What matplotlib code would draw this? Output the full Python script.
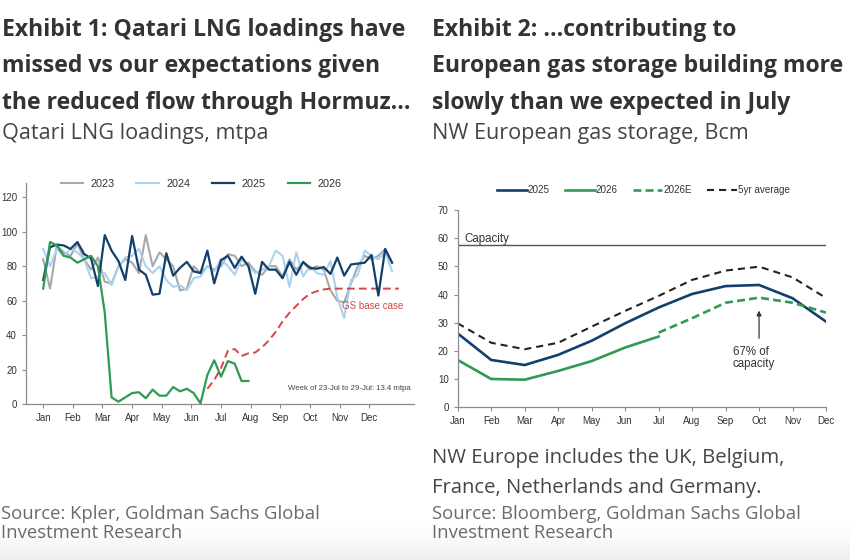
import numpy as np
import matplotlib.pyplot as plt

W, H = 850, 560

months = ['Jan', 'Feb', 'Mar', 'Apr', 'May', 'Jun',
          'Jul', 'Aug', 'Sep', 'Oct', 'Nov', 'Dec']

# Exhibit 1: weekly Qatari LNG loadings, mtpa (52 weeks)
load_2023 = [84, 67, 92, 88, 86, 93, 84, 78, 85, 71, 70, 80, 84, 82, 76, 98, 80, 88,
             84, 80, 66, 67, 80, 76, 80, 78, 80, 87, 86, 80, 82, 77, 75, 80, 80, 74,
             84, 78, 82, 78, 80, 78, 66, 60, 59, 70, 80, 86, 84, 86, 90, 82]
load_2024 = [90, 80, 90, 86, 90, 88, 84, 73, 74, 76, 69, 80, 85, 86, 90, 80, 76, 80,
             72, 68, 69, 66, 73, 74, 80, 77, 84, 80, 75, 84, 80, 76, 78, 80, 89, 86,
             68, 88, 74, 80, 76, 75, 83, 62, 50, 72, 75, 89, 86, 84, 88, 77]
load_2025 = [72, 91, 92.5, 92, 90, 94, 87, 84.5, 68.5, 98, 89, 83, 72, 97.5, 78, 75,
             63.5, 64, 87.5, 74.5, 79, 82.5, 77, 76, 89, 70, 83.5, 86, 79, 85.5, 80, 64,
             82.5, 78, 78, 73, 82.5, 75, 82.5, 79, 78.5, 79.5, 75.5, 85, 74.5, 81, 81.5,
             82, 86.5, 63, 90, 82]
load_2026 = [67, 94, 92, 86, 85, 82, 84, 86, 80, 53, 4, 1.5, 4, 6.5, 7, 3.5, 8.5, 5,
             5, 10, 7.5, 9, 6.5, 0.5, 17, 25.5, 16, 25, 23.5, 13.5, 13.5]
gs_base_start = 24
gs_base = [9, 14, 21, 31, 32, 28, 29.5, 30, 33, 37, 42, 48, 53, 57, 61, 64, 65.5,
           66.5, 67, 67, 67, 67, 67, 67, 67, 67, 67, 67, 67]

# Exhibit 2: NW European gas storage, Bcm
stor_2025 = [26.2, 16.8, 15.0, 18.6, 23.6, 29.8, 35.4, 40.2, 43.0, 43.4, 38.7, 30.4]
stor_2026 = [16.8, 10.05, 9.8, 12.9, 16.4, 21.2, 25.1]
stor_2026e = [26.5, 31.6, 37.1, 38.9, 37.1, 33.6]   # Jul..Dec
stor_5yr = [29.8, 22.9, 20.6, 22.9, 28.6, 34.2, 39.5, 45.2, 48.5, 49.9, 46.1, 38.8]
capacity = 57.7

NAVY = '#123f6b'
GREEN = '#2f9a52'
GREY = '#a8a8a8'
LBLUE = '#a9d3f0'
RED = '#d64545'
AX = '#8c8c8c'
TITLE_C = '#333333'
SUB_C = '#454545'
SRC_C = '#6a6a6a'


def fx(px):
    return px / W


def fy(py):
    return 1 - py / H


def weeks(n, start=0):
    return (np.arange(n) + start) * 12 / 52


fig = plt.figure(figsize=(W / 100, H / 100), dpi=100)

# soft grey fade along the bottom edge
bg = fig.add_axes([0, 0, 1, fy(522)], zorder=-5)
grad = np.linspace(0, 1, 100)[:, None] ** 1.6
bg.imshow(np.dstack([1 - 0.07 * grad] * 3), aspect='auto', extent=[0, 1, 0, 1])
bg.axis('off')


def style_axis(ax):
    for s in ['top', 'right']:
        ax.spines[s].set_visible(False)
    for s in ['left', 'bottom']:
        ax.spines[s].set_color(AX)
        ax.spines[s].set_linewidth(0.9)
    ax.tick_params(colors=AX, length=3, width=0.8, labelcolor='#333333')
    for lab in ax.get_xticklabels() + ax.get_yticklabels():
        lab.set_fontfamily('Liberation Sans')
        lab.set_fontsize(7)


# ---------------- Exhibit 1 ----------------
ax1 = fig.add_axes([fx(26), fy(404.3), fx(413.7 - 26), fy(183.3) - fy(404.3)])
ax1.plot(weeks(len(load_2023)), load_2023, color=GREY, lw=1.5, label='2023')
ax1.plot(weeks(len(load_2024)), load_2024, color=LBLUE, lw=1.5, label='2024')
ax1.plot(weeks(len(load_2025)), load_2025, color=NAVY, lw=1.6, label='2025', zorder=4)
ax1.plot(weeks(len(load_2026)), load_2026, color=GREEN, lw=1.6, label='2026', zorder=5)
ax1.plot(weeks(len(gs_base), gs_base_start), gs_base, color=RED, lw=1.4,
         ls=(0, (4, 2.2)), zorder=3)
ax1.set_xlim(-0.58, 12.5)
ax1.set_ylim(0, 128)
ax1.set_yticks(range(0, 121, 20))
ax1.set_xticks(range(12))
ax1.set_xticklabels(months)
style_axis(ax1)
ax1.text(11.1, 57, 'GS base case', color=RED, fontsize=7, family='Liberation Sans',
         ha='center', va='center')
ax1.text(12.4, 9, 'Week of 23-Jul to 29-Jul: 13.4 mtpa', color='#444444', fontsize=5.6,
         family='Liberation Sans', ha='right', va='center')
ax1.legend(loc='center left', bbox_to_anchor=(0.09, 0.997), ncol=4, frameon=False,
           prop=dict(family='Liberation Sans', size=7.8), handlelength=2.05,
           columnspacing=2.0, handletextpad=0.7, borderaxespad=0, borderpad=0,
           labelcolor='#333333')

# ---------------- Exhibit 2 ----------------
ax2 = fig.add_axes([fx(457.7), fy(407.3), fx(826 - 457.7), fy(210) - fy(407.3)])
m = np.arange(12)
ax2.axhline(capacity, color='#555555', lw=1.0)
ax2.plot(m, stor_5yr, color='#222222', lw=1.5, ls=(0, (3.4, 2.4)), label='5yr average')
ax2.plot(m, stor_2025, color=NAVY, lw=1.9, label='2025')
ax2.plot(m[:len(stor_2026)], stor_2026, color=GREEN, lw=1.9, label='2026')
ax2.plot(m[12 - len(stor_2026e):], stor_2026e, color=GREEN, lw=1.9, ls=(0, (3, 1.6)),
         label='2026E')
ax2.set_xlim(0, 11)
ax2.set_ylim(0, 70)
ax2.set_yticks(range(0, 71, 10))
ax2.set_xticks(m)
ax2.set_xticklabels(months)
style_axis(ax2)
ax2.text(0.2, 58.5, 'Capacity', fontsize=8.3, family='Liberation Sans',
         color='#333333', va='baseline')
ax2.annotate('', xy=(9, 35.3), xytext=(9, 23.5),
             arrowprops=dict(arrowstyle='-|>', color='#333333', lw=0.9,
                             mutation_scale=7))
ax2.text(8.22, 19.6, '67% of', fontsize=8.3, family='Liberation Sans', color='#333333',
         va='center')
ax2.text(8.22, 15.2, 'capacity', fontsize=8.3, family='Liberation Sans',
         color='#333333', va='center')
h, l = ax2.get_legend_handles_labels()
order = [1, 2, 3, 0]
ax2.legend([h[i] for i in order], [l[i] for i in order], loc='center left',
           bbox_to_anchor=(0.107, 1.1), ncol=4, frameon=False,
           prop=dict(family='Liberation Sans', size=7.1), handlelength=3.0,
           columnspacing=1.55, handletextpad=0.1, borderaxespad=0, borderpad=0,
           labelcolor='#333333')

# ---------------- texts ----------------
title_kw = dict(family='Open Sans', weight='bold', size=16.6, color=TITLE_C, va='baseline')
sub_kw = dict(family='Open Sans', size=15.6, color=SUB_C, va='baseline')
note_kw = dict(family='Open Sans', size=14.6, color=SUB_C, va='baseline')
src_kw = dict(family='Open Sans', size=13.3, color=SRC_C, va='baseline')

left_title = ['Exhibit 1: Qatari LNG loadings have',
              'missed vs our expectations given',
              'the reduced flow through Hormuz...']
right_title = ['Exhibit 2: ...contributing to',
               'European gas storage building more',
               'slowly than we expected in July']
for i, (a, b) in enumerate(zip(left_title, right_title)):
    yb = fy(36 + i * 36.4)
    fig.text(fx(2), yb, a, **title_kw)
    fig.text(fx(432), yb, b, **title_kw)
fig.text(fx(2), fy(139), 'Qatari LNG loadings, mtpa', **sub_kw)
fig.text(fx(432), fy(139), 'NW European gas storage, Bcm', **sub_kw)

fig.text(fx(432), fy(463.3), 'NW Europe includes the UK, Belgium,', **note_kw)
fig.text(fx(432), fy(493.3), 'France, Netherlands and Germany.', **note_kw)

fig.text(fx(1), fy(519), 'Source: Kpler, Goldman Sachs Global', **src_kw)
fig.text(fx(1), fy(538.5), 'Investment Research', **src_kw)
fig.text(fx(432), fy(519), 'Source: Bloomberg, Goldman Sachs Global', **src_kw)
fig.text(fx(432), fy(538.5), 'Investment Research', **src_kw)

fig.savefig('out.png', dpi=100)
